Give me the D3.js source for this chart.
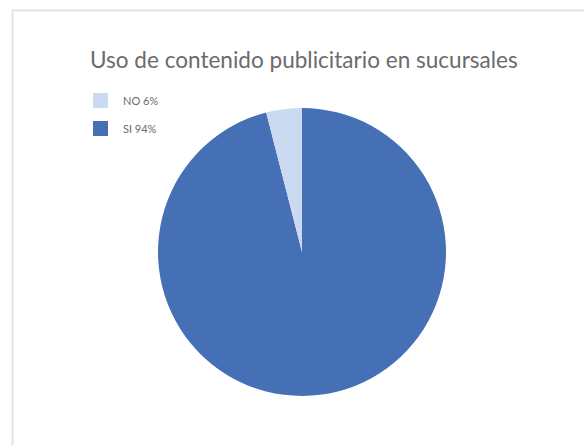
<!DOCTYPE html>
<html>
<head>
<meta charset="utf-8">
<script src="https://cdn.jsdelivr.net/npm/d3@7"></script>
<style>
  body { margin: 0; background: #fff; }
  svg { display: block; }
</style>
</head>
<body>
<main></main>
<script>
    // data
    const categories = ['NO 6%', 'SI 94%'];
    const values = [4, 96];
    const colors = ['#cbdaf0', '#4670b6'];
    const titleText = 'Uso de contenido publicitario en sucursales';

    const sizeOfSVG = { width: 584, height: 445 };
    const pieCenter = { x: 302, y: 252 };
    const radius = 144;

    const svg = d3.select('main')
        .append('svg')
        .attr('width', sizeOfSVG.width)
        .attr('height', sizeOfSVG.height);

    // chart area border (runs off the right and bottom edge)
    svg.append('rect')
        .attr('x', 12.5)
        .attr('y', 10.5)
        .attr('width', sizeOfSVG.width + 20)
        .attr('height', sizeOfSVG.height + 20)
        .attr('fill', '#fff')
        .attr('stroke', '#e3e3e3')
        .attr('stroke-width', 2);

    const title = svg.append('text')
        .attr('x', 90)
        .attr('y', 68)
        .attr('font-family', 'Lato, "Open Sans", sans-serif')
        .attr('font-size', 17)
        .attr('fill', '#6b6b6b')
        .text(titleText);
    // fit title to the width seen in the picture
    const w = title.node().getComputedTextLength();
    title.attr('font-size', 17 * 428 / w);

    const color = d3.scaleOrdinal().domain(categories).range(colors);

    // slices go clockwise from 12 o'clock: SI first, then NO
    const pieData = categories.map((c, i) => ({ cat: c, val: values[i] })).reverse();
    const pie = d3.pie().sort(null).value(d => d.val);
    const arc = d3.arc().innerRadius(0).outerRadius(radius);

    svg.append('g')
        .attr('transform', `translate(${pieCenter.x},${pieCenter.y})`)
        .selectAll('path')
        .data(pie(pieData))
        .enter()
        .append('path')
        .attr('d', arc)
        .attr('fill', d => color(d.data.cat));

    const legend = svg.append('g')
        .attr('transform', 'translate(93,93)')
        .selectAll('g')
        .data(categories)
        .enter()
        .append('g')
        .attr('transform', (d, i) => `translate(0,${i * 28})`);

    legend.append('rect')
        .attr('width', 15)
        .attr('height', 15)
        .attr('fill', d => color(d));

    legend.append('text')
        .attr('x', 30)
        .attr('y', 12)
        .attr('font-family', 'Lato, "Open Sans", sans-serif')
        .attr('font-size', 11)
        .attr('fill', '#6b6b6b')
        .text(d => d);
</script>
</body>
</html>
